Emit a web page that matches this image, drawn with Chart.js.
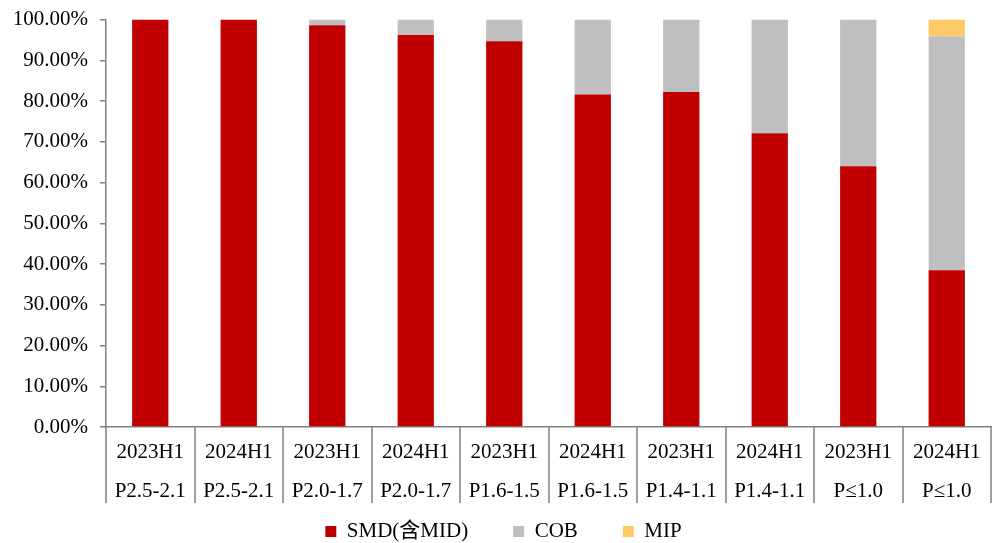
<!DOCTYPE html>
<html>
<head>
<meta charset="utf-8">
<script src="https://cdn.jsdelivr.net/npm/chart.js@4.4.1/dist/chart.umd.min.js"></script>
<style>
  html, body { margin: 0; padding: 0; background: #fff; }
  #wrap { width: 1000px; height: 543px; position: relative; }
</style>
</head>
<body>
<div id="wrap"><canvas id="c"></canvas></div>
<script>
// Period and package-pitch band for each column
const periods = ['2023H1', '2024H1', '2023H1', '2024H1', '2023H1', '2024H1', '2023H1', '2024H1', '2023H1', '2024H1'];
const pitchBands = ['P2.5-2.1', 'P2.5-2.1', 'P2.0-1.7', 'P2.0-1.7', 'P1.6-1.5', 'P1.6-1.5', 'P1.4-1.1', 'P1.4-1.1', 'P≤1.0', 'P≤1.0'];

// Share of each packaging technology (%)
const smdShare = [100, 100, 98.6, 96.2, 94.7, 81.6, 82.2, 72.1, 64.0, 38.5];
const cobShare = [0, 0, 1.4, 3.8, 5.3, 18.4, 17.8, 27.9, 36.0, 57.4];
const mipShare = [0, 0, 0, 0, 0, 0, 0, 0, 0, 4.1];

const seriesNames = ['SMD(含MID)', 'COB', 'MIP'];
const yTicks = [0, 10, 20, 30, 40, 50, 60, 70, 80, 90, 100];

const FONT = "'Times New Roman', 'Liberation Serif', 'Noto Sans CJK SC', serif";
const AXIS = '#808080';
const LEGEND_PAD = 45;    // horizontal gap between legend entries
const LEGEND_LIFT = 31;   // pull the legend row up closer to the axis labels
const LEGEND_SHIFT = 8;   // nudge the legend row slightly right

const labels = periods.map((p, i) => [p, pitchBands[i]]);

// Vertical separators between category columns, running down through the label rows
const separators = {
  id: 'separators',
  afterDraw(chart) {
    const x = chart.scales.x;
    const y = chart.scales.y;
    const ctx = chart.ctx;
    const base = y.getPixelForValue(0);
    ctx.save();
    ctx.strokeStyle = AXIS;
    ctx.lineWidth = 1.5;
    for (let i = 0; i <= labels.length; i++) {
      const px = Math.round(x.getPixelForValue(i - 0.5));
      ctx.beginPath();
      ctx.moveTo(px, base);
      ctx.lineTo(px, base + 76);
      ctx.stroke();
    }
    ctx.restore();
  }
};

// The legend padding also adds vertical room; keep the row tight under the axis
const legendPlace = {
  id: 'legendPlace',
  afterLayout(chart) {
    const lg = chart.legend;
    if (!lg) return;
    lg.top -= LEGEND_LIFT;
    lg.bottom -= LEGEND_LIFT;
    lg.left += LEGEND_SHIFT;
    lg.right += LEGEND_SHIFT;
  }
};

new Chart(document.getElementById('c'), {
  type: 'bar',
  data: {
    labels: labels,
    datasets: [
      { label: seriesNames[0], data: smdShare, backgroundColor: '#C00000' },
      { label: seriesNames[1], data: cobShare, backgroundColor: '#BFBFBF' },
      { label: seriesNames[2], data: mipShare, backgroundColor: '#FFC966' }
    ]
  },
  options: {
    responsive: true,
    maintainAspectRatio: false,
    animation: false,
    datasets: { bar: { categoryPercentage: 1, barPercentage: 0.41, borderWidth: 0 } },
    layout: { padding: { top: 0, right: 9, left: 0, bottom: -40 } },
    plugins: {
      tooltip: { enabled: false },
      legend: {
        position: 'bottom',
        labels: {
          font: { family: FONT, size: 21 },
          color: '#000',
          boxWidth: 11,
          boxHeight: 11,
          padding: LEGEND_PAD
        }
      }
    },
    scales: {
      x: {
        stacked: true,
        border: { color: AXIS, width: 1.5 },
        grid: { display: false, drawTicks: false },
        ticks: {
          font: { family: FONT, size: 21, lineHeight: 1.857 },
          color: '#000',
          padding: 6,
          maxRotation: 0,
          autoSkip: false
        },
        afterFit(scale) { scale.height = 80; }
      },
      y: {
        stacked: true,
        min: 0,
        max: 100,
        border: { color: AXIS, width: 1.5 },
        grid: { drawOnChartArea: false, tickLength: 6, color: AXIS, lineWidth: 1.5 },
        afterBuildTicks(scale) { scale.ticks = yTicks.map(v => ({ value: v })); },
        ticks: {
          font: { family: FONT, size: 21, lineHeight: 0.72 },
          color: '#000',
          padding: 12,
          callback: v => v.toFixed(2) + '%'
        },
        afterFit(scale) { scale.width = 106; }
      }
    }
  },
  plugins: [separators, legendPlace]
});
</script>
</body>
</html>
